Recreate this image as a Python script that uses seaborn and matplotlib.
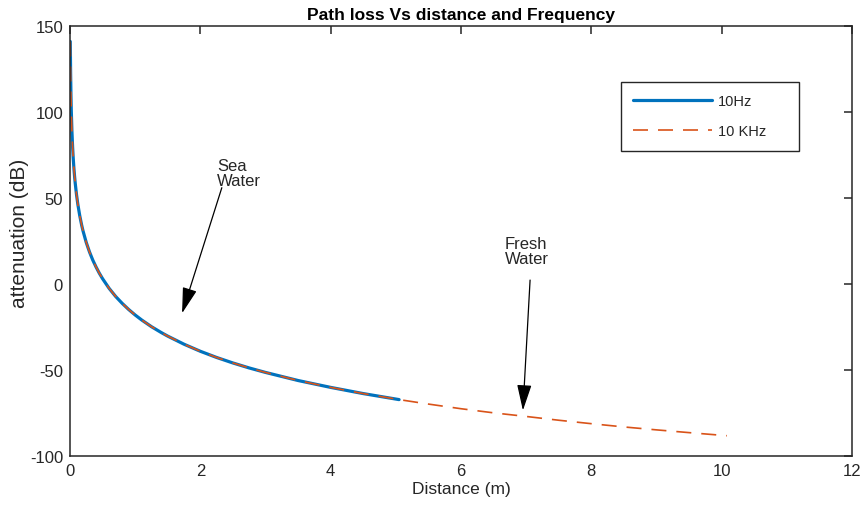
import matplotlib
matplotlib.use("Agg")
import matplotlib.pyplot as plt
import seaborn as sns
import pandas as pd

# ---- data ----
dist_sea = [0.005, 0.0075, 0.01, 0.015, 0.02, 0.03, 0.04, 0.05, 0.06, 0.07, 0.08,
            0.1, 0.12, 0.15, 0.18, 0.2, 0.25, 0.3, 0.35, 0.4, 0.45, 0.5, 0.6, 0.7,
            0.8, 0.9, 1.0, 1.1, 1.25, 1.4, 1.5, 1.75, 2.0, 2.25, 2.5, 2.75, 3.0,
            3.5, 4.0, 4.5, 5.05]
att_sea = [141, 130.7, 122, 109.7, 101, 88.6, 79.9, 73, 67.5, 62.8, 58.8,
           52, 46.5, 39.7, 34.1, 30.9, 24.1, 18.6, 13.9, 9.9, 6.3, 3.1, -2.5, -7.2,
           -11.2, -14.8, -18, -20.9, -24.8, -28.2, -30.3, -35.0, -39.1, -42.7, -45.9, -48.8, -51.4,
           -56.1, -60.1, -63.7, -67.2]
dist_fresh = dist_sea + [5.5, 6.0, 6.5, 7.0, 7.5, 8.0, 8.5, 9.0, 9.5, 10.08]
att_fresh = att_sea + [-69.8, -72.5, -74.9, -77.0, -79.2, -81.2, -83.1, -84.8, -86.4, -88.2]

series_labels = ["10Hz", "10 KHz"]
title_text = "Path loss Vs distance and Frequency"
xlabel_text = "Distance (m)"
ylabel_text = "attenuation (dB)"
x_ticks = [0, 2, 4, 6, 8, 10, 12]
y_ticks = [-100, -50, 0, 50, 100, 150]

df_sea = pd.DataFrame({"d": dist_sea, "a": att_sea})
df_fresh = pd.DataFrame({"d": dist_fresh, "a": att_fresh})

sns.set_style("white")
plt.rcParams["font.family"] = ["Liberation Sans", "DejaVu Sans"]
plt.rcParams["axes.unicode_minus"] = False

fig, ax = plt.subplots(figsize=(8.65, 5.06), dpi=100)
fig.subplots_adjust(left=0.0809, right=0.985, top=0.9466, bottom=0.0968)

dark = "#262626"
sns.lineplot(data=df_sea, x="d", y="a", ax=ax, color="#0072BD", lw=2.3,
             label=series_labels[0], sort=False, estimator=None)
sns.lineplot(data=df_fresh, x="d", y="a", ax=ax, color="#D95319", lw=1.2,
             linestyle=(0, (9, 6)), label=series_labels[1], sort=False, estimator=None)

ax.set_xlim(0, 12)
ax.set_ylim(-100, 150)
ax.set_xticks(x_ticks)
ax.set_yticks(y_ticks)
ax.tick_params(direction="in", top=True, right=True, length=6, width=1.1,
               color=dark, labelcolor=dark, labelsize=12, pad=5)
for s in ax.spines.values():
    s.set_color(dark)
    s.set_linewidth(1.1)

ax.set_title(title_text, fontsize=12.5, fontweight="bold", color="black", pad=5)
ax.set_xlabel(xlabel_text, fontsize=12.5, color=dark, labelpad=2)
ax.set_ylabel(ylabel_text, fontsize=15, color=dark)
ax.yaxis.set_label_coords(-0.052, 0.52)

# annotations
arrow_kw = dict(arrowstyle="-|>,head_length=1.6,head_width=0.45", color="black",
                lw=0.9, mutation_scale=10, shrinkA=0, shrinkB=0)
ax.annotate("", xy=(1.72, -17), xytext=(2.33, 56), arrowprops=arrow_kw)
ax.text(2.26, 73.5, "Sea\nWater", fontsize=12, ha="left", va="top", linespacing=1.0, color=dark)
ax.annotate("", xy=(6.95, -73.5), xytext=(7.06, 2.3), arrowprops=arrow_kw)
ax.text(6.67, 28, "Fresh\nWater", fontsize=12, ha="left", va="top", linespacing=1.0, color=dark)

leg = ax.legend(loc="upper left", bbox_to_anchor=(0.7046, 0.77, 0.2276, 0.10),
                mode="expand", borderaxespad=0, fontsize=10.5, handlelength=5.4,
                handletextpad=0.4, labelspacing=1.1, borderpad=0.85,
                fancybox=False, framealpha=1, edgecolor=dark)
leg.get_frame().set_linewidth(1.0)

fig.savefig("out.png", dpi=100)
